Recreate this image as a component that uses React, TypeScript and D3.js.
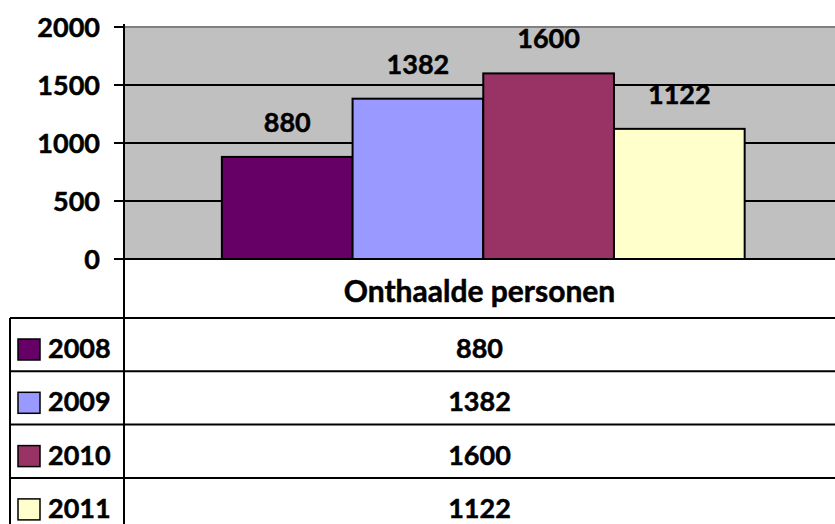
import React, { useEffect, useRef } from "react";
import * as d3 from "d3";

const category = "Onthaalde personen";
const years = ["2008", "2009", "2010", "2011"];
const values = [880, 1382, 1600, 1122];
const colors = ["#660066", "#9999ff", "#993366", "#ffffcc"];
const yTicks = [0, 500, 1000, 1500, 2000];

export default function App() {
  const ref = useRef<SVGSVGElement>(null);

  useEffect(() => {
    const width = 835;
    const height = 524;
    const margin = { top: 27, left: 124 };
    const plotBottom = 259;
    const tableLeft = 10;
    const headerBottom = 318;
    const rowH = 53.3;
    const font = "Lato, 'Open Sans', sans-serif";

    const svg = d3.select(ref.current);
    svg.selectAll("*").remove();

    const y = d3.scaleLinear().domain([0, 2000]).range([plotBottom, margin.top]);
    const x0 = d3.scaleBand().domain([category]).range([margin.left, width]).paddingOuter(0.18).align(0.52);
    const gx = x0(category) as number;
    const x1 = d3.scaleBand().domain(years).range([gx, gx + x0.bandwidth()]);
    const cx = (margin.left + width) / 2;

    // heavy bold text, Calibri-ish
    const label = (sel: any, size: number) => sel
      .attr("font-family", font).attr("font-weight", "bold").attr("font-size", size)
      .attr("fill", "#000").attr("stroke", "#000").attr("stroke-width", 0.5);

    // plot area
    svg.append("rect")
      .attr("x", margin.left).attr("y", margin.top)
      .attr("width", width - margin.left).attr("height", plotBottom - margin.top)
      .attr("fill", "#c0c0c0");

    svg.append("line")
      .attr("x1", margin.left).attr("x2", width)
      .attr("y1", margin.top).attr("y2", margin.top)
      .attr("stroke", "#808080").attr("stroke-width", 2);

    // gridlines + ticks
    svg.selectAll(".grid")
      .data(yTicks.filter(d => d > 0 && d < 2000))
      .enter().append("line")
      .attr("x1", margin.left - 10).attr("x2", width)
      .attr("y1", d => y(d)).attr("y2", d => y(d))
      .attr("stroke", "#000").attr("stroke-width", 2);

    svg.append("line")
      .attr("x1", margin.left - 10).attr("x2", margin.left)
      .attr("y1", y(2000)).attr("y2", y(2000))
      .attr("stroke", "#000").attr("stroke-width", 2);

    svg.selectAll(".tick-label")
      .data(yTicks)
      .enter().append("text")
      .attr("x", 100).attr("y", d => y(d) + 10)
      .attr("text-anchor", "end")
      .call(label, 27)
      .text(d => d);

    // bars
    svg.selectAll(".bar")
      .data(values)
      .enter().append("rect")
      .attr("x", (d, i) => x1(years[i]) as number)
      .attr("y", d => y(d))
      .attr("width", x1.bandwidth())
      .attr("height", d => plotBottom - y(d))
      .attr("fill", (d, i) => colors[i])
      .attr("stroke", "#000").attr("stroke-width", 2);

    svg.selectAll(".bar-label")
      .data(values)
      .enter().append("text")
      .attr("x", (d, i) => (x1(years[i]) as number) + x1.bandwidth() / 2)
      .attr("y", d => y(d) - 25)
      .attr("text-anchor", "middle")
      .call(label, 27)
      .text(d => d);

    // data table
    const rowTop = (i: number) => headerBottom + i * rowH;

    svg.append("line")
      .attr("x1", margin.left - 10).attr("x2", width)
      .attr("y1", plotBottom).attr("y2", plotBottom)
      .attr("stroke", "#000").attr("stroke-width", 2);

    svg.selectAll(".row-line")
      .data(d3.range(years.length))
      .enter().append("line")
      .attr("x1", tableLeft).attr("x2", width)
      .attr("y1", i => rowTop(i)).attr("y2", i => rowTop(i))
      .attr("stroke", "#000").attr("stroke-width", 2);

    svg.append("line")
      .attr("x1", tableLeft).attr("x2", tableLeft)
      .attr("y1", headerBottom).attr("y2", height)
      .attr("stroke", "#000").attr("stroke-width", 2);

    svg.append("line")
      .attr("x1", margin.left).attr("x2", margin.left)
      .attr("y1", margin.top - 3).attr("y2", height)
      .attr("stroke", "#000").attr("stroke-width", 2);

    svg.append("text")
      .attr("x", cx).attr("y", 302)
      .attr("text-anchor", "middle")
      .call(label, 30)
      .text(category);

    svg.selectAll(".key")
      .data(years)
      .enter().append("rect")
      .attr("x", 18).attr("y", (d, i) => rowTop(i) + 21)
      .attr("width", 22).attr("height", 21)
      .attr("fill", (d, i) => colors[i])
      .attr("stroke", "#000").attr("stroke-width", 1.5);

    svg.selectAll(".year")
      .data(years)
      .enter().append("text")
      .attr("x", 48).attr("y", (d, i) => rowTop(i) + 40)
      .call(label, 27)
      .text(d => d);

    svg.selectAll(".value")
      .data(values)
      .enter().append("text")
      .attr("x", cx).attr("y", (d, i) => rowTop(i) + 40)
      .attr("text-anchor", "middle")
      .call(label, 27)
      .text(d => d);
  }, []);

  return (
    <div style={{ position: "fixed", left: 0, top: 0 }}>
      <svg width={835} height={524} ref={ref} style={{ display: "block", background: "#fff" }} />
    </div>
  );
}
